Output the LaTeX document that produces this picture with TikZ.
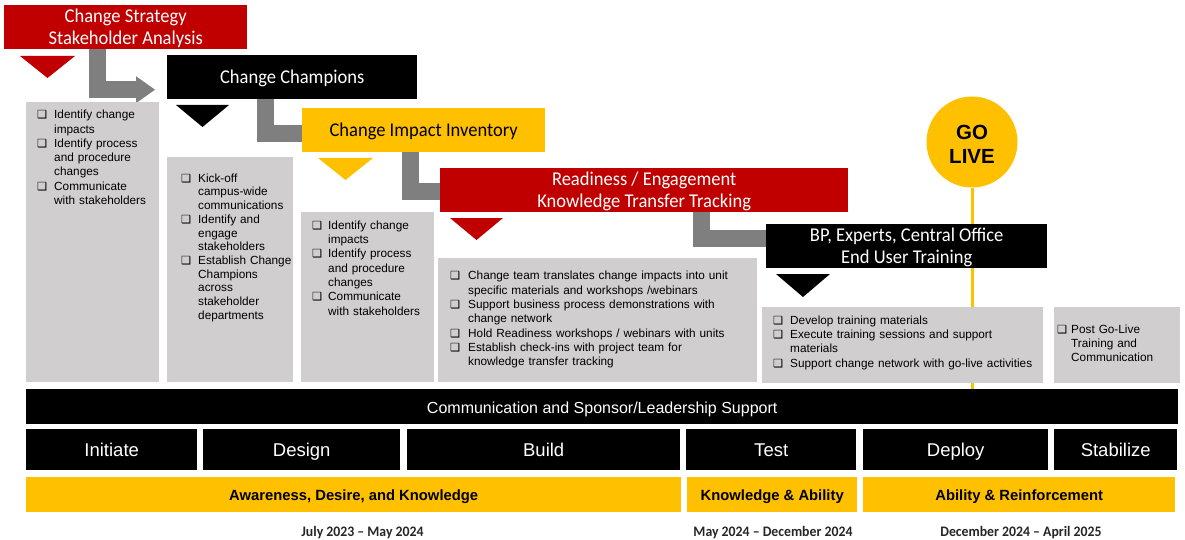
\documentclass[tikz,border=0pt]{standalone}
\usepackage{fontspec}
\setmainfont{Liberation Sans}
\newfontfamily\calfont[FakeStretch=0.95]{Carlito}
\newfontfamily\symfont{DejaVu Sans}
\usetikzlibrary{calc,backgrounds}
\definecolor{cred}{HTML}{C00000}
\definecolor{cyel}{HTML}{FFC000}
\definecolor{cgray}{HTML}{7F7F7F}
\definecolor{clight}{HTML}{D0CECE}
\newlength\bxind
\setlength\bxind{17pt}
\newcommand\bxglyph{{\symfont\fontsize{11.2}{11.2}\selectfont ❑}}
\newcommand\bxitem[1]{\par\hangindent=\bxind\hangafter=1\noindent\makebox[\bxind][l]{\bxglyph}#1}
\tikzset{
  hdr/.style={anchor=north west, inner sep=0, minimum height=44pt, align=center,
    text depth=0pt, font=\calfont\fontsize{19.5}{22}\selectfont, text=white},
  gbox/.style={fill=clight, anchor=north west, inner sep=0},
  lst/.style={anchor=base west, inner sep=0, text width=#1,
    font=\fontsize{11.8}{14.3}\selectfont},
  phase/.style={fill=black, text=white, anchor=north west, inner sep=0,
    minimum height=41pt, text height=14pt, text depth=1pt, font=\fontsize{18.5}{20}\selectfont},
  ybar/.style={fill=cyel, anchor=north west, inner sep=0, minimum height=35pt,
    text height=11pt, text depth=0pt, font=\bfseries\fontsize{14.8}{16}\selectfont},
  datelbl/.style={inner sep=0, anchor=base, text=black!85, font=\calfont\bfseries\fontsize{14.5}{16}\selectfont},
  elbow/.style={draw=cgray, line width=17pt, line join=miter},
}
\begin{document}
\begin{tikzpicture}[x=1pt,y=-1pt]
\useasboundingbox (0,0) rectangle (1185,540);

% headers
\node[hdr, fill=cred, minimum width=243pt] (h1) at (4,5) {Change Strategy\\Stakeholder Analysis};
\node[hdr, fill=black, minimum width=250pt] (h2) at (167,55) {Change Champions};
\node[hdr, fill=cyel, text=black, minimum width=243pt] (h3) at (302,108) {Change Impact Inventory};
\node[hdr, fill=cred, minimum width=408pt] (h4) at (440,168) {Readiness / Engagement\\Knowledge Transfer Tracking};
\node[hdr, fill=black, minimum width=281pt] (h5) at (766,224) {BP, Experts, Central Office\\End User Training};

% triangles
\fill[cred] (20,56) -- (75,56) -- (47.5,78) -- cycle;
\fill[black] (176,105) -- (229,105) -- (202.5,127) -- cycle;
\fill[cyel] (318,158) -- (373,158) -- (345.5,180) -- cycle;
\fill[cred] (450,218) -- (503,218) -- (476.5,240) -- cycle;
\fill[black] (776,274) -- (830,274) -- (803,297) -- cycle;

% go live
\node[circle, fill=cyel, minimum size=91pt, inner sep=0] (golive) at (972,142) {};
\node[inner sep=0, align=center, font=\bfseries\fontsize{20.5}{24}\selectfont]
  (golivetext) at (golive.center) [yshift=-2pt] {GO\\LIVE};

% gray boxes
\node[gbox, minimum width=133pt, minimum height=280pt] (ga) at (26,102) {};
\node[gbox, minimum width=126pt, minimum height=225pt] (gb) at (167,157) {};
\node[gbox, minimum width=133pt, minimum height=170pt] (gc) at (301,212) {};
\node[gbox, minimum width=319pt, minimum height=124pt] (gd) at (438,258) {};
\node[gbox, minimum width=281pt, minimum height=76pt] (ge) at (762,307) {};
\node[gbox, minimum width=126pt, minimum height=76pt] (gf) at (1054,307) {};

\node[lst=140pt] (ta) at (37,104.5) {%
\bxitem{Identify change\newline impacts}
\bxitem{Identify process\newline and procedure\newline changes}
\bxitem{Communicate\newline with stakeholders}\par};

\node[lst=140pt, font=\fontsize{11.8}{13.7}\selectfont] (tb) at (181,168.5) {%
\bxitem{Kick-off\newline campus-wide\newline communications}
\bxitem{Identify and\newline engage\newline stakeholders}
\bxitem{Establish Change\newline Champions\newline across\newline stakeholder\newline departments}\par};

\node[lst=140pt] (tc) at (312,215) {\setlength\bxind{16pt}%
\bxitem{Identify change\newline impacts}
\bxitem{Identify process\newline and procedure\newline changes}
\bxitem{Communicate\newline with stakeholders}\par};

\node[lst=310pt] (td) at (450,265.5) {\setlength\bxind{18pt}%
\bxitem{Change team translates change impacts into unit\newline specific materials and workshops /webinars}
\bxitem{Support business process demonstrations with\newline change network}
\bxitem{Hold Readiness workshops / webinars with units}
\bxitem{Establish check-ins with project team for\newline knowledge transfer tracking}\par};

\node[lst=290pt] (te) at (773,310) {%
\bxitem{Develop training materials}
\bxitem{Execute training sessions and support\newline materials}
\bxitem{Support change network with go-live activities}\par};

\node[lst=130pt, font=\fontsize{11.8}{14}\selectfont] (tf) at (1057,319.5) {\setlength\bxind{14pt}%
\bxitem{Post Go-Live\newline Training and\newline Communication}\par};

% communication bar
\node[anchor=north west, inner sep=0, fill=black, text=white, minimum width=1152pt,
  minimum height=35pt, text height=13pt, text depth=0pt, font=\fontsize{16}{18}\selectfont] (comm) at (26,389)
  {Communication and Sponsor/Leadership Support};

% phases
\node[phase, minimum width=171pt] (p1) at (26,429) {Initiate};
\node[phase, minimum width=197pt] (p2) at (203,429) {Design};
\node[phase, minimum width=273pt] (p3) at (407,429) {Build};
\node[phase, minimum width=170pt] (p4) at (686,429) {Test};
\node[phase, minimum width=185pt] (p5) at (863,429) {Deploy};
\node[phase, minimum width=123pt] (p6) at (1054,429) {Stabilize};

% yellow bars
\node[ybar, minimum width=655pt] (y1) at (26,477) {Awareness, Desire, and Knowledge};
\node[ybar, minimum width=170pt] (y2) at (687,477) {Knowledge \& Ability};
\node[ybar, minimum width=312pt] (y3) at (863,477) {Ability \& Reinforcement};

% dates
\node[datelbl] (d1) at (362.5,536) {July 2023 – May 2024};
\node[datelbl] (d2) at (773,536) {May 2024 – December 2024};
\node[datelbl] (d3) at (1021,536) {December 2024 – April 2025};

\begin{scope}[on background layer]
  \draw[cyel, line width=3pt] (golive.south) -- (golive.south |- comm.north);
  \coordinate (tip) at ([xshift=-12pt, yshift=-12.5pt]h2.west);
  \draw[elbow] ([xshift=-28pt]h1.south) |- ([xshift=-18pt]tip);
  \fill[cgray] (tip) -- ++(-19,-13.5) -- ++(0,27) -- cycle;
  \draw[elbow] ([xshift=-26.5pt]h2.south) |- ([yshift=-3.5pt]h3.west);
  \draw[elbow] ([xshift=-13.5pt]h3.south) |- ([yshift=-1pt]h4.west);
  \draw[elbow] ([xshift=57.5pt]h4.south) |- ([yshift=7.5pt]h5.west);
\end{scope}
\end{tikzpicture}
\end{document}
